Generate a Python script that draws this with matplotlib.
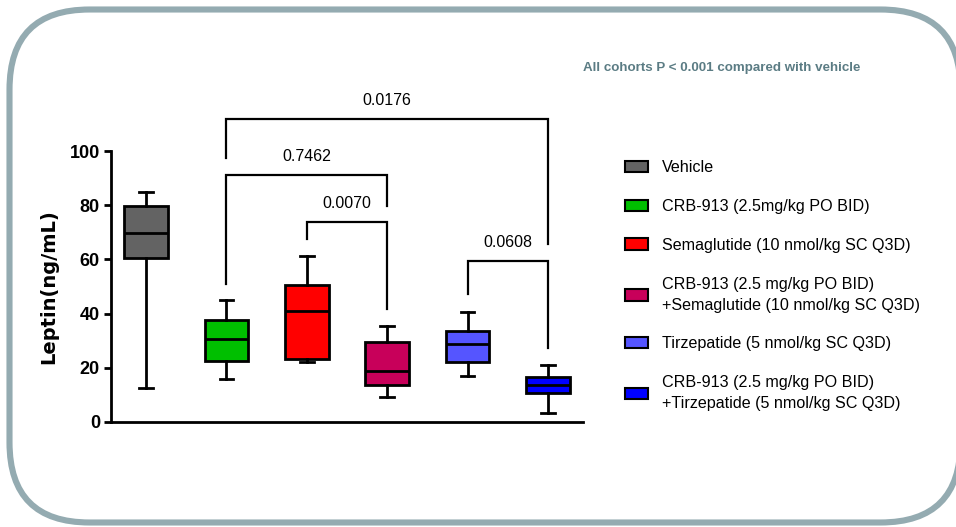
import matplotlib
matplotlib.use('Agg')
import matplotlib.pyplot as plt
from matplotlib.patches import FancyBboxPatch, Patch

plt.rcParams['font.family'] = ['Liberation Sans', 'DejaVu Sans']

groups = ['Vehicle',
          'CRB-913 (2.5mg/kg PO BID)',
          'Semaglutide (10 nmol/kg SC Q3D)',
          'CRB-913 (2.5 mg/kg PO BID)\n+Semaglutide (10 nmol/kg SC Q3D)',
          'Tirzepatide (5 nmol/kg SC Q3D)',
          'CRB-913 (2.5 mg/kg PO BID)\n+Tirzepatide (5 nmol/kg SC Q3D)']
colors = ['#636363', '#00bf00', '#ff0000', '#c8005a', '#5555ff', '#0000ff']

whis_lo = [12.4, 15.8, 22.0, 9.2, 17.1, 3.4]
q1 = [60.4, 22.6, 23.2, 13.7, 22.0, 10.6]
med = [69.9, 30.5, 41.0, 18.9, 28.8, 13.7]
q3 = [79.7, 37.7, 50.6, 29.5, 33.5, 16.7]
whis_hi = [84.7, 44.9, 61.4, 35.4, 40.7, 21.0]

# (left group, right group, bar height, left leg end, right leg end, p value)
comparisons = [
    (2, 6, 111.8, 97.3, 65.6, '0.0176'),
    (2, 4, 91.1, 50.9, 79.7, '0.7462'),
    (3, 4, 73.7, 67.5, 41.7, '0.0070'),
    (5, 6, 59.5, 47.1, 27.2, '0.0608'),
]

fig = plt.figure(figsize=(9.56, 5.27), dpi=100)

# rounded frame
bg = fig.add_axes([0, 0, 1, 1])
bg.set_xlim(0, 956)
bg.set_ylim(527, 0)
bg.axis('off')
frame = FancyBboxPatch((9.5, 9.5), 951, 513, boxstyle='round,pad=0,rounding_size=80',
                       fc='white', ec='#94abb1', lw=4.4)
bg.add_patch(frame)

ax = fig.add_axes([111/956, 1 - 422/527, 472/956, 271/527])
ax.patch.set_alpha(0)

stats = []
for i in range(len(groups)):
    stats.append(dict(whislo=whis_lo[i], q1=q1[i], med=med[i], q3=q3[i], whishi=whis_hi[i]))

pos = list(range(1, len(groups) + 1))
lw = 2.0
bp = ax.bxp(stats, positions=pos, widths=0.54, capwidths=0.17, showfliers=False,
            patch_artist=True,
            boxprops=dict(lw=lw, ec='black'),
            medianprops=dict(lw=lw, color='black'),
            whiskerprops=dict(lw=lw, color='black'),
            capprops=dict(lw=lw, color='black'))
for b, c in zip(bp['boxes'], colors):
    b.set_facecolor(c)

for g1, g2, h, l1, l2, p in comparisons:
    ax.plot([g1, g1, g2, g2], [l1, h, h, l2], color='black', lw=1.6, clip_on=False,
            solid_joinstyle='miter')
    ax.text((g1 + g2) / 2, h + 6.8, p, ha='center', va='center', fontsize=11.5)

ax.set_xlim(0.565, 6.435)
ax.set_ylim(0, 100)
ax.set_yticks([0, 20, 40, 60, 80, 100])
ax.set_xticks([])
for s in ['top', 'right']:
    ax.spines[s].set_visible(False)
for s in ['left', 'bottom']:
    ax.spines[s].set_linewidth(2.0)
ax.tick_params(axis='y', width=2.0, length=5, labelsize=13, pad=3)
for t in ax.get_yticklabels():
    t.set_fontweight('bold')
ax.set_ylabel('Leptin(ng/mL)', fontsize=14, fontweight='bold', family='DejaVu Sans', labelpad=8)

handles = [Patch(fc=c, ec='black', lw=1.5) for c in colors]
leg = fig.legend(handles, groups, loc='upper left', bbox_to_anchor=(625/956, 1 - 160/527),
                 frameon=False, fontsize=11.6, handlelength=1.45, handleheight=0.7,
                 handletextpad=0.85, labelspacing=1.48, borderpad=0, borderaxespad=0)
for t in leg.get_texts():
    t.set_linespacing(1.5)

fig.text(583/956, 1 - 68/527, 'All cohorts P < 0.001 compared with vehicle', color='#5b7c84',
         fontsize=9.6, fontweight='bold', va='center', ha='left')

fig.savefig('out.png', dpi=100)
